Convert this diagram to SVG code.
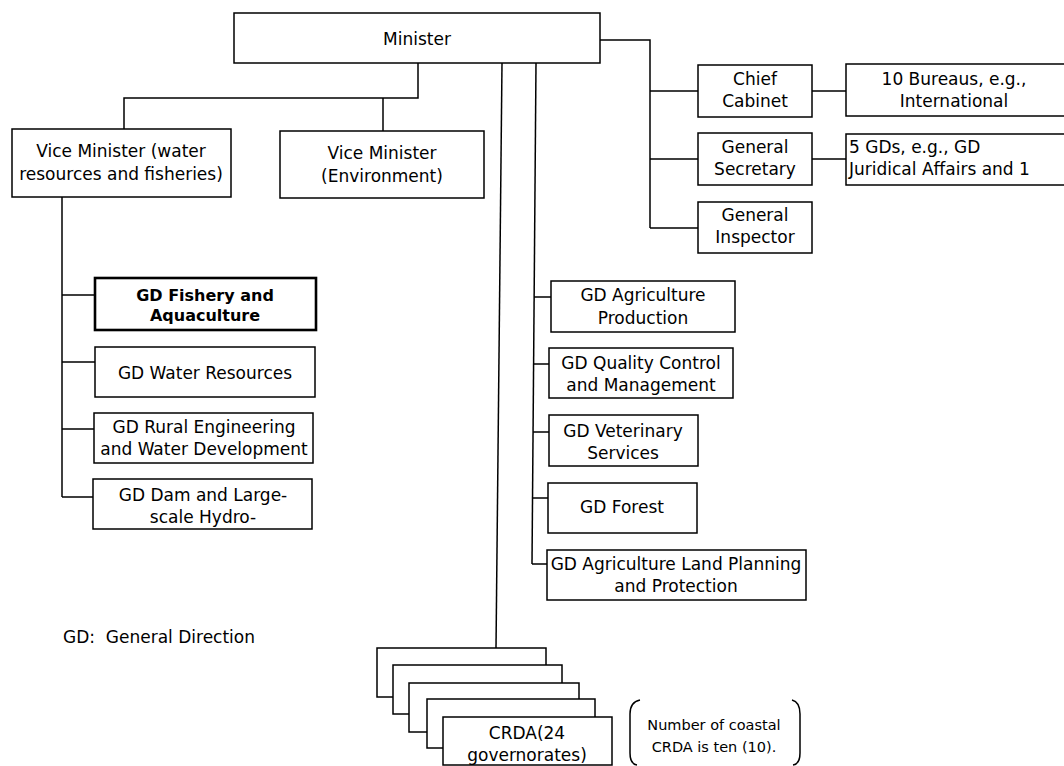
<svg xmlns="http://www.w3.org/2000/svg" width="1064" height="766" viewBox="0 0 1064 766">
<style>
.box{fill:#fff;stroke:#000;stroke-width:1.5}
.bold{stroke-width:2.6}
.t{font-family:"DejaVu Sans",sans-serif;font-size:17px;fill:#000;text-anchor:middle}
.tb{font-weight:bold;font-size:16px}
.tl{text-anchor:start}
.ts{font-size:14.5px}
.conn path{fill:none;stroke:#000;stroke-width:1.5}
</style>
<rect width="1064" height="766" fill="#fff"/>
<g class="conn" id="connectors">
<path d="M418,63 V98 H124 V129"/>
<path d="M383,98 V131"/>
<path d="M62,197 V497"/>
<path d="M62,295 H95 M62,362 H95 M62,429 H94 M62,497 H93"/>
<path d="M502,63 L496,648"/>
<path d="M536,63 L532,564"/>
<path d="M534,297 H551 M533.6,364 H549 M533.1,432 H549 M532.5,498 H548 M532,564 H547"/>
<path d="M600,40 H650 V228"/>
<path d="M650,91 H698 M650,159 H698 M650,228 H698"/>
<path d="M812,91 H846 M812,159 H846"/>
</g>
<g id="minister"><rect class="box" x="234" y="13" width="366" height="50"/><text class="t" x="417" y="45">Minister</text></g>
<g id="vm-water"><rect class="box" x="12" y="129" width="219" height="68"/><text class="t" x="121" y="157">Vice Minister (water</text><text class="t" x="121" y="180">resources and fisheries)</text></g>
<g id="vm-env"><rect class="box" x="280" y="131" width="204" height="67"/><text class="t" x="382" y="159">Vice Minister</text><text class="t" x="382" y="182">(Environment)</text></g>
<g id="chief-cabinet"><rect class="box" x="698" y="65" width="114" height="52"/><text class="t" x="755" y="85">Chief</text><text class="t" x="755" y="107">Cabinet</text></g>
<g id="general-secretary"><rect class="box" x="698" y="133" width="114" height="52"/><text class="t" x="755" y="153">General</text><text class="t" x="755" y="175">Secretary</text></g>
<g id="general-inspector"><rect class="box" x="698" y="202" width="114" height="51"/><text class="t" x="755" y="221">General</text><text class="t" x="755" y="243">Inspector</text></g>
<g id="bureaus"><rect class="box" x="846" y="64" width="240" height="52"/><text class="t" x="954" y="85">10 Bureaus, e.g.,</text><text class="t" x="954" y="107">International</text></g>
<g id="five-gds"><rect class="box" x="846" y="134" width="240" height="51"/><text class="t tl" x="849" y="153">5 GDs, e.g., GD</text><text class="t tl" x="849" y="175">Juridical Affairs and 1</text></g>
<g id="gd-fishery"><rect class="box bold" x="95" y="278" width="221" height="52"/><text class="t tb" x="205" y="301">GD Fishery and</text><text class="t tb" x="205" y="321">Aquaculture</text></g>
<g id="gd-water"><rect class="box" x="95" y="347" width="220" height="50"/><text class="t" x="205" y="379">GD Water Resources</text></g>
<g id="gd-rural"><rect class="box" x="94" y="413" width="219" height="50"/><text class="t" x="204" y="433">GD Rural Engineering</text><text class="t" x="204" y="455">and Water Development</text></g>
<g id="gd-dam"><rect class="box" x="93" y="479" width="219" height="50"/><text class="t" x="203" y="501">GD Dam and Large-</text><text class="t" x="203" y="523">scale Hydro-</text></g>
<g id="gd-agri-prod"><rect class="box" x="551" y="281" width="184" height="51"/><text class="t" x="643" y="301">GD Agriculture</text><text class="t" x="643" y="324">Production</text></g>
<g id="gd-quality"><rect class="box" x="549" y="348" width="184" height="50"/><text class="t" x="641" y="369">GD Quality Control</text><text class="t" x="641" y="391">and Management</text></g>
<g id="gd-vet"><rect class="box" x="549" y="415" width="149" height="51"/><text class="t" x="623" y="437">GD Veterinary</text><text class="t" x="623" y="459">Services</text></g>
<g id="gd-forest"><rect class="box" x="548" y="483" width="149" height="50"/><text class="t" x="622" y="513">GD Forest</text></g>
<g id="gd-land"><rect class="box" x="547" y="550" width="259" height="50"/><text class="t" x="676" y="570">GD Agriculture Land Planning</text><text class="t" x="676" y="592">and Protection</text></g>
<g id="crda">
<rect class="box" x="377" y="648" width="169" height="49"/>
<rect class="box" x="393" y="665" width="169" height="49"/>
<rect class="box" x="409" y="683" width="170" height="49"/>
<rect class="box" x="427" y="699" width="168" height="49"/>
<rect class="box" x="443" y="717" width="169" height="48"/>
<text class="t" x="527" y="739">CRDA(24</text><text class="t" x="527" y="761">governorates)</text>
</g>
<g id="note">
<path d="M640,700 Q630,702 630,714 V753 Q630,764 637,765" fill="none" stroke="#000" stroke-width="1.5"/>
<path d="M792,700 Q800,702 800,714 V753 Q800,764 793,765" fill="none" stroke="#000" stroke-width="1.5"/>
<text class="t ts" x="714" y="730">Number of coastal</text><text class="t ts" x="714" y="752">CRDA is ten (10).</text>
</g>
<g id="legend"><text class="t tl" x="63" y="643">GD:&#160; General Direction</text></g>
</svg>
